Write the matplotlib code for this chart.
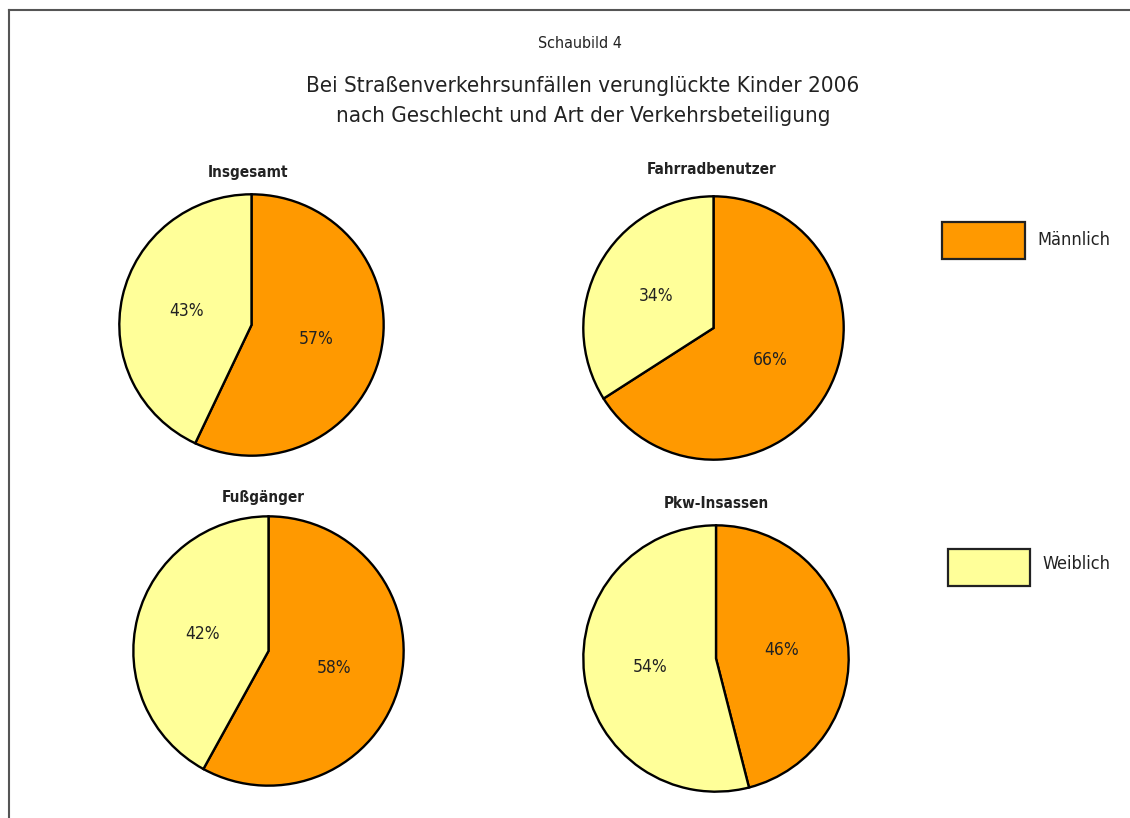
import matplotlib
matplotlib.use('Agg')
import matplotlib.pyplot as plt
from matplotlib.patches import Rectangle
from matplotlib.lines import Line2D

plt.rcParams['font.family'] = ['DejaVu Sans']
plt.rcParams['font.stretch'] = 'condensed'

W, H = 1130, 818

# Anteile verunglückter Kinder (Männlich, Weiblich) in Prozent
groups = ['Insgesamt', 'Fahrradbenutzer', 'Fußgänger', 'Pkw-Insassen']
maennlich = [57, 66, 58, 46]
weiblich = [43, 34, 42, 54]
series = ['Männlich', 'Weiblich']

ORANGE = '#FF9900'
YELLOW = '#FFFF99'
TEXT = '#222222'

# pixel boxes (x0, y0, x1, y1) and title anchors for each pie
boxes = [(118, 193, 385, 457), (582, 195, 845, 461),
         (132, 515, 405, 787), (582, 524, 850, 793)]
titles_xy = [(248, 172), (712, 170), (263, 497), (716, 503)]


def fx(x):
    return x / W


def fy(y):
    return 1 - y / H


fig = plt.figure(figsize=(W / 100, H / 100), dpi=100)

# Rahmen (oben und links)
fig.add_artist(Line2D([fx(9), fx(9)], [fy(10), 0], transform=fig.transFigure,
                      color='#555555', lw=1.5))
fig.add_artist(Line2D([fx(9), 1], [fy(10), fy(10)], transform=fig.transFigure,
                      color='#555555', lw=1.5))

fig.text(fx(580), fy(43), 'Schaubild 4', ha='center', va='center',
         fontsize=11.5, color=TEXT)
fig.text(fx(583), fy(86), 'Bei Straßenverkehrsunfällen verunglückte Kinder 2006',
         ha='center', va='center', fontsize=16, color=TEXT)
fig.text(fx(583), fy(116), 'nach Geschlecht und Art der Verkehrsbeteiligung',
         ha='center', va='center', fontsize=16, color=TEXT)

for name, m, w, (x0, y0, x1, y1), (tx, ty) in zip(groups, maennlich, weiblich,
                                                  boxes, titles_xy):
    ax = fig.add_axes([fx(x0), fy(y1), (x1 - x0) / W, (y1 - y0) / H])
    wedges, texts, autotexts = ax.pie(
        [m, w], colors=[ORANGE, YELLOW], startangle=90, counterclock=False,
        autopct=lambda p: f'{p:.0f}%', pctdistance=0.5,
        wedgeprops=dict(edgecolor='black', linewidth=1.7),
        textprops=dict(fontsize=12.5, color=TEXT))
    ax.set_aspect('auto')
    ax.set_xlim(-1.01, 1.01)
    ax.set_ylim(-1.01, 1.01)
    ax.axis('off')
    fig.text(fx(tx), fy(ty), name, ha='center', va='center', fontsize=11,
             fontweight='bold', color=TEXT)

# Legende
legend_boxes = [(942, 222, 1025, 259, 1037, 240), (948, 549, 1030, 586, 1042, 564)]
for label, col, (bx0, by0, bx1, by1, lx, ly) in zip(series, [ORANGE, YELLOW],
                                                    legend_boxes):
    fig.add_artist(Rectangle((fx(bx0), fy(by1)), (bx1 - bx0) / W, (by1 - by0) / H,
                             transform=fig.transFigure, facecolor=col,
                             edgecolor='#222222', lw=1.6))
    fig.text(fx(lx), fy(ly), label, ha='left', va='center', fontsize=13,
             color=TEXT)

fig.savefig('out.png', dpi=100, facecolor='white')
